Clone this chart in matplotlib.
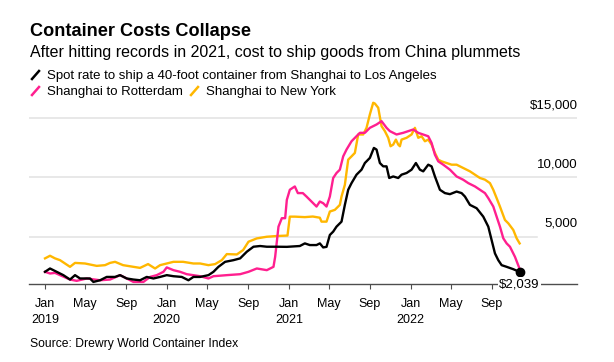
import pandas as pd
import matplotlib
matplotlib.use("Agg")
import matplotlib.pyplot as plt
from matplotlib.lines import Line2D

plt.rcParams['font.family'] = ['Liberation Sans', 'DejaVu Sans']

# Drewry WCI, $ per 40-foot container
la_dates = ["2019-01-01", "2019-01-16", "2019-02-05", "2019-02-25", "2019-03-17", "2019-04-01",
            "2019-04-16", "2019-05-16", "2019-05-26", "2019-06-15", "2019-07-05", "2019-07-30",
            "2019-08-14", "2019-09-03", "2019-09-23", "2019-10-13", "2019-11-02", "2019-11-22",
            "2019-12-12", "2020-01-01", "2020-01-21", "2020-02-15", "2020-03-06", "2020-03-21",
            "2020-04-10", "2020-05-05", "2020-05-20", "2020-06-04", "2020-06-24", "2020-07-19",
            "2020-08-08", "2020-08-28", "2020-09-17", "2020-10-07", "2020-10-27", "2020-11-26",
            "2020-12-26", "2021-02-03", "2021-02-18", "2021-03-05", "2021-03-25", "2021-04-04",
            "2021-04-14", "2021-04-24", "2021-05-04", "2021-05-14", "2021-05-24", "2021-06-08",
            "2021-06-18", "2021-06-28", "2021-07-08", "2021-07-23", "2021-08-07", "2021-08-17",
            "2021-09-01", "2021-09-13", "2021-09-21", "2021-10-01", "2021-10-11", "2021-10-21",
            "2021-10-29", "2021-11-10", "2021-11-25", "2021-12-05", "2021-12-20", "2022-01-04",
            "2022-01-17", "2022-01-29", "2022-02-08", "2022-02-23", "2022-03-05", "2022-03-15",
            "2022-03-30", "2022-04-14", "2022-04-29", "2022-05-19", "2022-06-03", "2022-06-13",
            "2022-06-28", "2022-07-18", "2022-08-07", "2022-08-22", "2022-09-01", "2022-09-11",
            "2022-09-21", "2022-10-01", "2022-10-16", "2022-11-05", "2022-11-24"]
la_values = [2050, 2330, 2050, 1770, 1400, 1770,
             1490, 1490, 1200, 1340, 1620, 1620,
             1770, 1490, 1400, 1340, 1620, 1490,
             1620, 1770, 1680, 1620, 1340, 1620,
             1620, 1770, 2050, 2470, 2890, 3030,
             3180, 3740, 4160, 4220, 4160, 4160,
             4150, 4220, 4440, 4300, 4300, 4440,
             4100, 4150, 5150, 5430, 5850, 6270,
             7680, 8950, 9510, 10220, 10640, 11200,
             11630, 12470, 12330, 11200, 10920, 10920,
             9940, 10070, 9940, 10220, 10360, 10640,
             11200, 10640, 10500, 11060, 10920, 10070,
             8950, 8670, 8580, 8800, 8670, 8380,
             7680, 7400, 6690, 5850, 4720, 3600,
             3030, 2610, 2470, 2270, 2039]

rot_dates = ["2019-01-01", "2019-01-16", "2019-01-31", "2019-02-15", "2019-03-17", "2019-04-06",
             "2019-05-06", "2019-06-15", "2019-07-15", "2019-08-14", "2019-09-03", "2019-09-23",
             "2019-10-23", "2019-11-12", "2019-12-02", "2019-12-22", "2020-01-01", "2020-01-21",
             "2020-02-10", "2020-03-01", "2020-04-10", "2020-05-05", "2020-05-20", "2020-06-29",
             "2020-08-08", "2020-09-02", "2020-09-27", "2020-10-27", "2020-11-16", "2020-11-21",
             "2020-12-01", "2020-12-11", "2020-12-21", "2020-12-26", "2021-01-04", "2021-01-19",
             "2021-01-28", "2021-02-12", "2021-02-23", "2021-03-10", "2021-03-25", "2021-04-04",
             "2021-04-14", "2021-04-24", "2021-05-04", "2021-05-14", "2021-05-24", "2021-06-03",
             "2021-06-13", "2021-06-23", "2021-07-08", "2021-08-02", "2021-08-17", "2021-09-01",
             "2021-09-21", "2021-10-06", "2021-10-21", "2021-10-31", "2021-11-20", "2021-12-10",
             "2022-01-09", "2022-01-24", "2022-02-23", "2022-03-05", "2022-03-15", "2022-03-25",
             "2022-04-09", "2022-04-29", "2022-05-19", "2022-06-08", "2022-06-23", "2022-07-13",
             "2022-07-28", "2022-08-12", "2022-08-22", "2022-09-06", "2022-09-16", "2022-09-26",
             "2022-10-06", "2022-10-16", "2022-10-26", "2022-11-10", "2022-11-24"]
rot_values = [2050, 1910, 1960, 1770, 1400, 1290,
              1490, 1340, 1400, 1770, 1490, 1200,
              1200, 1620, 1770, 2050, 2420, 2190,
              2050, 1850, 1680, 1490, 1680, 1770,
              1850, 2050, 2330, 2190, 2470, 3310,
              5850, 6560, 6560, 8100, 8950, 9230,
              8670, 8670, 8380, 7960, 7540, 7960,
              7820, 7540, 8380, 9940, 10360, 10640,
              11760, 12330, 13030, 13740, 13740, 14160,
              14440, 14720, 14160, 13880, 13600, 13740,
              14020, 13740, 13450, 12890, 11900, 11340,
              11060, 10640, 10070, 9790, 9510, 9230,
              8950, 8670, 8250, 7540, 6690, 5850,
              4870, 4440, 4160, 3310, 2300]

ny_dates = ["2019-01-01", "2019-01-16", "2019-01-31", "2019-02-15", "2019-03-17", "2019-04-01",
            "2019-05-01", "2019-06-05", "2019-06-30", "2019-07-15", "2019-07-30", "2019-08-23",
            "2019-09-23", "2019-10-13", "2019-11-06", "2019-11-27", "2019-12-12", "2020-01-01",
            "2020-01-21", "2020-02-19", "2020-03-21", "2020-04-10", "2020-05-05", "2020-05-25",
            "2020-06-14", "2020-06-29", "2020-07-29", "2020-08-17", "2020-09-02", "2020-09-27",
            "2020-10-27", "2020-11-26", "2020-12-28", "2021-01-04", "2021-01-19", "2021-02-18",
            "2021-03-14", "2021-04-04", "2021-04-09", "2021-04-24", "2021-05-04", "2021-05-19",
            "2021-06-03", "2021-06-08", "2021-06-18", "2021-06-28", "2021-07-08", "2021-07-18",
            "2021-07-28", "2021-08-12", "2021-08-22", "2021-09-01", "2021-09-11", "2021-09-16",
            "2021-09-26", "2021-10-06", "2021-10-16", "2021-10-26", "2021-11-02", "2021-11-10",
            "2021-11-18", "2021-11-25", "2021-11-30", "2021-12-05", "2021-12-20", "2022-01-04",
            "2022-01-14", "2022-01-24", "2022-02-03", "2022-02-13", "2022-02-23", "2022-03-05",
            "2022-03-15", "2022-03-25", "2022-04-04", "2022-04-19", "2022-05-04", "2022-05-19",
            "2022-06-08", "2022-06-28", "2022-07-13", "2022-07-28", "2022-08-12", "2022-08-27",
            "2022-09-06", "2022-09-16", "2022-09-26", "2022-10-11", "2022-10-21", "2022-11-05",
            "2022-11-15", "2022-11-24"]
ny_values = [3180, 3400, 3180, 3030, 2470, 2800,
             2750, 2550, 2610, 2800, 2890, 2610,
             2470, 2380, 2700, 2330, 2610, 2750,
             2890, 2890, 2750, 2750, 2610, 2700,
             3030, 3540, 3510, 3880, 4580, 4860,
             5000, 5060, 5100, 6690, 6690, 6650,
             6700, 6600, 6270, 6270, 7120, 7260,
             7680, 8380, 9370, 11480, 11760, 12050,
             13600, 13600, 14160, 15290, 16270, 16200,
             15850, 14300, 13880, 13320, 12610, 12750,
             13170, 12750, 12610, 13170, 13320, 13600,
             14160, 13320, 13450, 13030, 13170, 12750,
             12050, 11480, 11340, 11200, 11060, 11060,
             10780, 10500, 10220, 9940, 9800, 9510,
             8950, 8250, 7540, 6410, 6130, 5570,
             4870, 4440]

grid_values = [5000, 10000, 15000]
grid_labels = ["5,000", "10,000", "$15,000"]
tick_dates = pd.date_range("2019-01-01", "2022-09-01", freq="4MS")
tick_labels = [d.strftime("%b") + ("\n" + str(d.year) if d.month == 1 else "") for d in tick_dates]

BLACK = "#000000"
PINK = "#ff1f8f"
YELLOW = "#ffb700"

W, H = 614, 362
fig = plt.figure(figsize=(W / 100, H / 100), dpi=100)
ax = fig.add_axes([29 / W, (H - 284.3) / H, 548 / W, (284.3 - 100) / H])

ax.plot(pd.to_datetime(ny_dates), ny_values, color=YELLOW, lw=1.7, zorder=3)
ax.plot(pd.to_datetime(rot_dates), rot_values, color=PINK, lw=1.7, zorder=3)
ax.plot(pd.to_datetime(la_dates), la_values, color=BLACK, lw=1.7, zorder=4)

last = pd.to_datetime(la_dates[-1])
ax.plot([last], [la_values[-1]], "o", color=BLACK, ms=6, zorder=5)

ax.set_xlim(pd.Timestamp("2018-11-14"), pd.Timestamp("2023-05-15"))
ax.set_ylim(1000, 16500)

for v, lab in zip(grid_values, grid_labels):
    xmax = 0.927 if v == 5000 else 1
    ax.axhline(v, xmax=xmax, color="#e2e2e2", lw=1.1, zorder=1)
    ax.annotate(lab, xy=(1, v), xycoords=ax.get_yaxis_transform(), xytext=(0.7, 9.2),
                textcoords="offset points", ha="right", va="center", fontsize=9.5)

ax.annotate("${:,}".format(la_values[-1]), xy=(last, 1000), ha="center", va="center",
            fontsize=9.5, annotation_clip=False, zorder=6,
            bbox=dict(boxstyle="square,pad=0.1", fc="white", ec="none"))

for s in ["top", "left", "right"]:
    ax.spines[s].set_visible(False)
ax.spines["bottom"].set_color("#4d4d4d")
ax.spines["bottom"].set_linewidth(1.0)
ax.set_yticks([])
ax.set_xticks(tick_dates)
ax.set_xticklabels(tick_labels, fontsize=9, linespacing=1.4)
ax.tick_params(axis="x", length=3.4, width=0.8, color="#4d4d4d", pad=6.5)
ax.patch.set_visible(False)

# header and legend
fig.text(30 / W, 1 - 36 / H, "Container Costs Collapse", fontsize=13.1, fontweight="bold", va="baseline")
fig.text(30 / W, 1 - 57.3 / H, "After hitting records in 2021, cost to ship goods from China plummets",
         fontsize=11.5, va="baseline")

legend_rows = [
    (79, [(32, BLACK, "Spot rate to ship a 40-foot container from Shanghai to Los Angeles")]),
    (95, [(32, PINK, "Shanghai to Rotterdam"), (191, YELLOW, "Shanghai to New York")]),
]
for base, items in legend_rows:
    for x0, col, lab in items:
        fig.add_artist(Line2D([x0 / W, (x0 + 7) / W], [1 - base / H, 1 - (base - 8) / H],
                              transform=fig.transFigure, color=col, lw=1.8))
        fig.text((x0 + 15) / W, 1 - base / H, lab, fontsize=9.55, va="baseline")

fig.text(29.5 / W, 1 - 346.7 / H, "Source: Drewry World Container Index", fontsize=8.7, va="baseline")

fig.savefig("out.png", dpi=100)
plt.close(fig)
